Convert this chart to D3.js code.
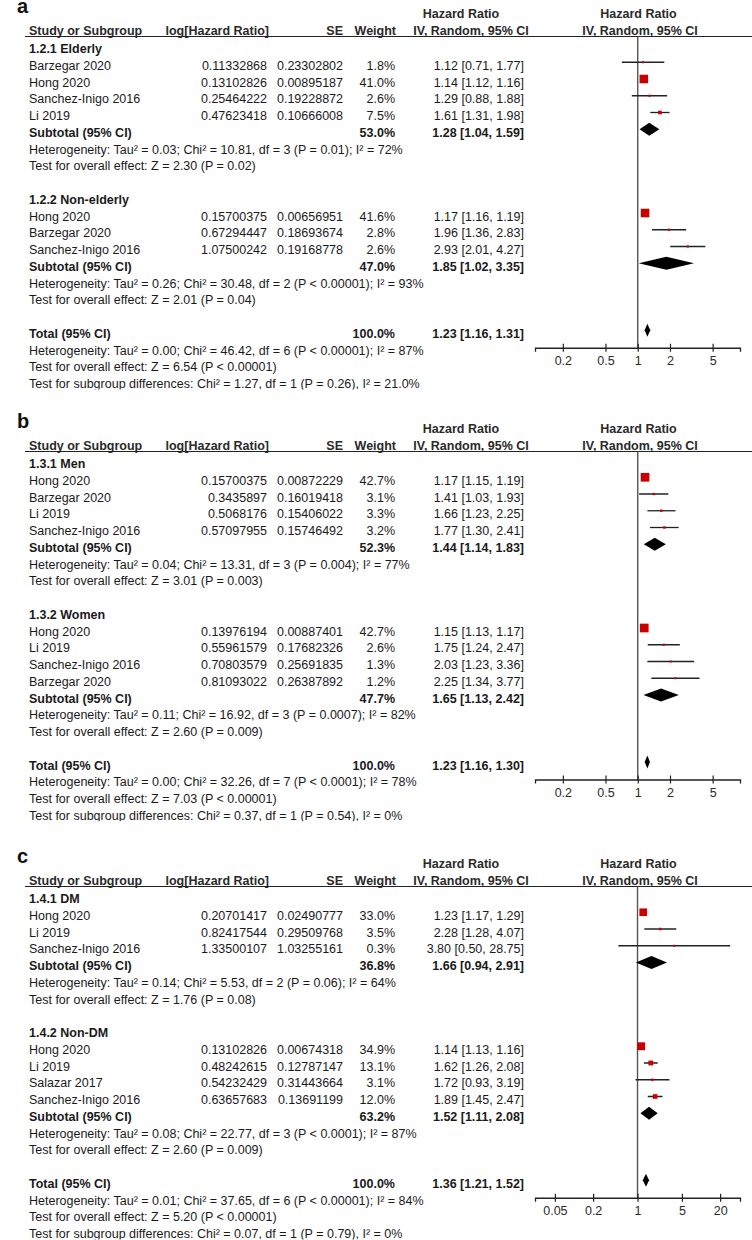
<!DOCTYPE html>
<html><head><meta charset="utf-8">
<script src="https://cdn.jsdelivr.net/npm/d3@7"></script>
<style>
html,body{margin:0;padding:0;background:#fff;}
svg text{font-family:"Liberation Sans",Arial,Helvetica,sans-serif;}
</style></head><body>
<svg id="chart" width="752" height="1240"></svg>
<script>
// ---------- Panel a ----------
const aLetter = "a";
const aGroups = ["1.2.1 Elderly", "1.2.2 Non-elderly"];
const aNames = ["Barzegar 2020","Hong 2020","Sanchez-Inigo 2016","Li 2019","Hong 2020","Barzegar 2020","Sanchez-Inigo 2016"];
const aGroupOf = [0,0,0,0,1,1,1];
const aLogHR = ["0.11332868","0.13102826","0.25464222","0.47623418","0.15700375","0.67294447","1.07500242"];
const aSE = ["0.23302802","0.00895187","0.19228872","0.10666008","0.00656951","0.18693674","0.19168778"];
const aWeight = [1.8, 41.0, 2.6, 7.5, 41.6, 2.8, 2.6];
const aHR = [1.12, 1.14, 1.29, 1.61, 1.17, 1.96, 2.93];
const aLo = [0.71, 1.12, 0.88, 1.31, 1.16, 1.36, 2.01];
const aHi = [1.77, 1.16, 1.88, 1.98, 1.19, 2.83, 4.27];
const aSubWeight = [53.0, 47.0];
const aSubHR = [1.28, 1.85];
const aSubLo = [1.04, 1.02];
const aSubHi = [1.59, 3.35];
const aSubHet = ["Heterogeneity: Tau² = 0.03; Chi² = 10.81, df = 3 (P = 0.01); I² = 72%",
                 "Heterogeneity: Tau² = 0.26; Chi² = 30.48, df = 2 (P < 0.00001); I² = 93%"];
const aSubTest = ["Test for overall effect: Z = 2.30 (P = 0.02)", "Test for overall effect: Z = 2.01 (P = 0.04)"];
const aTotal = [1.23, 1.16, 1.31];
const aTotalNotes = ["Heterogeneity: Tau² = 0.00; Chi² = 46.42, df = 6 (P < 0.00001); I² = 87%",
                     "Test for overall effect: Z = 6.54 (P < 0.00001)",
                     "Test for subgroup differences: Chi² = 1.27, df = 1 (P = 0.26), I² = 21.0%"];
const aTicks = [0.2, 0.5, 1, 2, 5];
const aDomain = [0.11, 9.0];

// ---------- Panel b ----------
const bLetter = "b";
const bGroups = ["1.3.1 Men", "1.3.2 Women"];
const bNames = ["Hong 2020","Barzegar 2020","Li 2019","Sanchez-Inigo 2016","Hong 2020","Li 2019","Sanchez-Inigo 2016","Barzegar 2020"];
const bGroupOf = [0,0,0,0,1,1,1,1];
const bLogHR = ["0.15700375","0.3435897","0.5068176","0.57097955","0.13976194","0.55961579","0.70803579","0.81093022"];
const bSE = ["0.00872229","0.16019418","0.15406022","0.15746492","0.00887401","0.17682326","0.25691835","0.26387892"];
const bWeight = [42.7, 3.1, 3.3, 3.2, 42.7, 2.6, 1.3, 1.2];
const bHR = [1.17, 1.41, 1.66, 1.77, 1.15, 1.75, 2.03, 2.25];
const bLo = [1.15, 1.03, 1.23, 1.30, 1.13, 1.24, 1.23, 1.34];
const bHi = [1.19, 1.93, 2.25, 2.41, 1.17, 2.47, 3.36, 3.77];
const bSubWeight = [52.3, 47.7];
const bSubHR = [1.44, 1.65];
const bSubLo = [1.14, 1.13];
const bSubHi = [1.83, 2.42];
const bSubHet = ["Heterogeneity: Tau² = 0.04; Chi² = 13.31, df = 3 (P = 0.004); I² = 77%",
                 "Heterogeneity: Tau² = 0.11; Chi² = 16.92, df = 3 (P = 0.0007); I² = 82%"];
const bSubTest = ["Test for overall effect: Z = 3.01 (P = 0.003)", "Test for overall effect: Z = 2.60 (P = 0.009)"];
const bTotal = [1.23, 1.16, 1.30];
const bTotalNotes = ["Heterogeneity: Tau² = 0.00; Chi² = 32.26, df = 7 (P < 0.0001); I² = 78%",
                     "Test for overall effect: Z = 7.03 (P < 0.00001)",
                     "Test for subgroup differences: Chi² = 0.37, df = 1 (P = 0.54), I² = 0%"];
const bTicks = [0.2, 0.5, 1, 2, 5];
const bDomain = [0.11, 9.0];

// ---------- Panel c ----------
const cLetter = "c";
const cGroups = ["1.4.1 DM", "1.4.2 Non-DM"];
const cNames = ["Hong 2020","Li 2019","Sanchez-Inigo 2016","Hong 2020","Li 2019","Salazar 2017","Sanchez-Inigo 2016"];
const cGroupOf = [0,0,0,1,1,1,1];
const cLogHR = ["0.20701417","0.82417544","1.33500107","0.13102826","0.48242615","0.54232429","0.63657683"];
const cSE = ["0.02490777","0.29509768","1.03255161","0.00674318","0.12787147","0.31443664","0.13691199"];
const cWeight = [33.0, 3.5, 0.3, 34.9, 13.1, 3.1, 12.0];
const cHR = [1.23, 2.28, 3.80, 1.14, 1.62, 1.72, 1.89];
const cLo = [1.17, 1.28, 0.50, 1.13, 1.26, 0.93, 1.45];
const cHi = [1.29, 4.07, 28.75, 1.16, 2.08, 3.19, 2.47];
const cSubWeight = [36.8, 63.2];
const cSubHR = [1.66, 1.52];
const cSubLo = [0.94, 1.11];
const cSubHi = [2.91, 2.08];
const cSubHet = ["Heterogeneity: Tau² = 0.14; Chi² = 5.53, df = 2 (P = 0.06); I² = 64%",
                 "Heterogeneity: Tau² = 0.08; Chi² = 22.77, df = 3 (P < 0.0001); I² = 87%"];
const cSubTest = ["Test for overall effect: Z = 1.76 (P = 0.08)", "Test for overall effect: Z = 2.60 (P = 0.009)"];
const cTotal = [1.36, 1.21, 1.52];
const cTotalNotes = ["Heterogeneity: Tau² = 0.01; Chi² = 37.65, df = 6 (P < 0.00001); I² = 84%",
                     "Test for overall effect: Z = 5.20 (P < 0.00001)",
                     "Test for subgroup differences: Chi² = 0.07, df = 1 (P = 0.79), I² = 0%"];
const cTicks = [0.05, 0.2, 1, 5, 20];
const cDomain = [0.0243, 41.1];

// ---------- Drawing ----------
const W = 752, H = 1240;
const svg = d3.select("#chart");
svg.append("rect").attr("width", W).attr("height", H).attr("fill", "#fff");
const defs = svg.append("defs");
const TXT = "#1a1a1a", FS = 12.5;
const fmt2 = d3.format(".2f"), fmt1 = d3.format(".1f");
const hrText = (h, l, u) => `${fmt2(h)} [${fmt2(l)}, ${fmt2(u)}]`;

function buildPanel(id, top, letter, groups, names, groupOf, logHR, se, weight, hr, lo, hi,
                    subW, subHR, subLo, subHi, subHet, subTest, total, totalNotes, ticks, domain) {
  const rows = [];
  let i = 0;
  groups.forEach((gname, gi) => {
    rows.push({type: "head", i: i++, text: gname});
    names.forEach((n, k) => { if (groupOf[k] === gi) rows.push({type: "study", i: i++, k}); });
    rows.push({type: "sub", i: i++, gi});
    rows.push({type: "note", i: i++, text: subHet[gi]});
    rows.push({type: "note", i: i++, text: subTest[gi]});
    i++;
  });
  const totalRow = i;
  rows.push({type: "total", i: i++});
  totalNotes.forEach(t => rows.push({type: "note", i: i++, text: t}));
  const lastRow = i - 1;

  const rowY = r => top + 53 + 16.75 * r;
  const clipH = rowY(lastRow) + 1.5 - top;
  defs.append("clipPath").attr("id", "clip-" + id)
    .append("rect").attr("x", 0).attr("y", top).attr("width", W).attr("height", clipH);
  const g = svg.append("g").attr("clip-path", `url(#clip-${id})`);

  const x = d3.scaleLog().domain(domain).range([535, 740]);
  const ruleY = top + 36.5;
  const axisY = rowY(totalRow) + 10;

  // panel letter
  svg.append("text").attr("x", 17).attr("y", top + 13).attr("font-size", 20)
    .attr("font-weight", "bold").attr("fill", "#111").text(letter);

  const hdr = (tx, xx, yy, anchor) => g.append("text").attr("x", xx).attr("y", yy)
    .attr("text-anchor", anchor).attr("font-size", FS).attr("font-weight", "bold")
    .attr("fill", "#2a2a2a").text(tx);
  hdr("Hazard Ratio", 461, top + 18, "middle");
  hdr("Hazard Ratio", 638.5, top + 18, "middle");
  hdr("Study or Subgroup", 29, top + 34.5, "start");
  hdr("log[Hazard Ratio]", 269, top + 34.5, "end");
  hdr("SE", 343, top + 34.5, "end");
  hdr("Weight", 396, top + 34.5, "end");
  hdr("IV, Random, 95% CI", 471, top + 34.5, "middle");
  hdr("IV, Random, 95% CI", 640, top + 34.5, "middle");
  g.append("line").attr("x1", 25).attr("x2", W).attr("y1", ruleY).attr("y2", ruleY)
    .attr("stroke", "#222").attr("stroke-width", 1.2);

  g.append("line").attr("x1", x(1)).attr("x2", x(1)).attr("y1", ruleY).attr("y2", axisY)
    .attr("stroke", "#555").attr("stroke-width", 1.4);

  const txt = (tx, xx, yy, anchor, bold) => g.append("text").attr("x", xx).attr("y", yy)
    .attr("text-anchor", anchor).attr("font-size", FS).attr("font-weight", bold ? "bold" : "normal")
    .attr("fill", TXT).text(tx);

  const diamond = (h, l, u, cy) => {
    const p = d3.path();
    p.moveTo(x(l), cy); p.lineTo(x(h), cy - 6.5); p.lineTo(x(u), cy); p.lineTo(x(h), cy + 6.5); p.closePath();
    g.append("path").attr("d", p.toString()).attr("fill", "#000");
  };

  rows.forEach(r => {
    const y = rowY(r.i);
    const my = y - 7.5;
    if (r.type === "head") txt(r.text, 29, y, "start", true);
    else if (r.type === "note") txt(r.text, 29, y, "start", false);
    else if (r.type === "study") {
      const k = r.k;
      txt(names[k], 29, y, "start", false);
      txt(logHR[k], 267, y, "end", false);
      txt(se[k], 343, y, "end", false);
      txt(fmt1(weight[k]) + "%", 395, y, "end", false);
      txt(hrText(hr[k], lo[k], hi[k]), 524, y, "end", false);
      g.append("line").attr("x1", x(lo[k])).attr("x2", x(hi[k])).attr("y1", my).attr("y2", my)
        .attr("stroke", "#222").attr("stroke-width", 1.3);
      const s = Math.max(2, 1.33 * Math.sqrt(weight[k]));
      g.append("rect").attr("x", x(hr[k]) - s / 2).attr("y", my - s / 2).attr("width", s).attr("height", s)
        .attr("fill", "#c80000");
    } else if (r.type === "sub") {
      const gi = r.gi;
      txt("Subtotal (95% CI)", 29, y, "start", true);
      txt(fmt1(subW[gi]) + "%", 395, y, "end", true);
      txt(hrText(subHR[gi], subLo[gi], subHi[gi]), 524, y, "end", true);
      diamond(subHR[gi], subLo[gi], subHi[gi], my);
    } else if (r.type === "total") {
      txt("Total (95% CI)", 29, y, "start", true);
      txt("100.0%", 395, y, "end", true);
      txt(hrText(total[0], total[1], total[2]), 524, y, "end", true);
      diamond(total[0], total[1], total[2], my);
    }
  });

  const axis = d3.axisBottom(x).tickValues(ticks).tickSizeOuter(0).tickSize(4)
    .tickFormat(d => String(d));
  const ag = g.append("g").attr("transform", `translate(0,${axisY})`).call(axis);
  ag.select(".domain").attr("stroke", "#222").attr("stroke-width", 1.3);
  ag.selectAll(".tick line").attr("y1", -4).attr("y2", 4).attr("stroke", "#222").attr("stroke-width", 1.2);
  ag.selectAll(".tick text").attr("y", 17.5).attr("dy", null).attr("font-size", FS)
    .attr("fill", "#2a2a2a").attr("font-family", '"Liberation Sans",Arial,sans-serif');
}

buildPanel("a", 0, aLetter, aGroups, aNames, aGroupOf, aLogHR, aSE, aWeight, aHR, aLo, aHi,
  aSubWeight, aSubHR, aSubLo, aSubHi, aSubHet, aSubTest, aTotal, aTotalNotes, aTicks, aDomain);
buildPanel("b", 415, bLetter, bGroups, bNames, bGroupOf, bLogHR, bSE, bWeight, bHR, bLo, bHi,
  bSubWeight, bSubHR, bSubLo, bSubHi, bSubHet, bSubTest, bTotal, bTotalNotes, bTicks, bDomain);
buildPanel("c", 850, cLetter, cGroups, cNames, cGroupOf, cLogHR, cSE, cWeight, cHR, cLo, cHi,
  cSubWeight, cSubHR, cSubLo, cSubHi, cSubHet, cSubTest, cTotal, cTotalNotes, cTicks, cDomain);
</script></body></html>
